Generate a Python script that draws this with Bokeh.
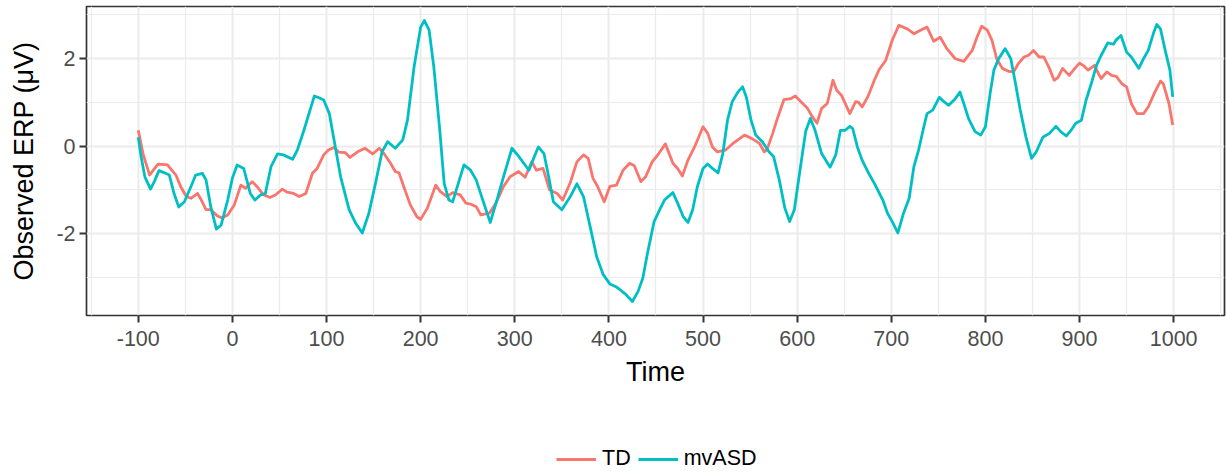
from bokeh.plotting import figure
from bokeh.models import FixedTicker, Legend, LegendItem, Range1d
from bokeh.layouts import column
from bokeh.embed import file_html
from bokeh.resources import INLINE

# ---- data ----
td_time = [-100, -95, -88, -84, -79, -69, -60, -55, -49, -44, -37, -33, -28, -23, -16, -11, -5, 2, 9, 14,
           21, 26, 33, 40, 46, 53, 58, 65, 71, 78, 85, 90, 97, 102, 108, 113, 120, 125, 133, 141,
           149, 156, 161, 168, 173, 177, 182, 189, 196, 200, 207, 216, 221, 228, 234, 242, 248, 253, 259, 264,
           273, 280, 288, 295, 304, 311, 318, 323, 330, 337, 345, 351, 359, 366, 373, 378, 383, 388, 395, 401,
           408, 415, 422, 427, 434, 439, 446, 453, 460, 468, 473, 478, 484, 491, 500, 505, 510, 515, 524, 533,
           544, 552, 560, 565, 568, 574, 579, 586, 593, 598, 604, 611, 616, 621, 626, 632, 638, 642, 647, 656,
           662, 665, 669, 675, 682, 687, 694, 701, 708, 717, 724, 731, 738, 745, 752, 759, 768, 777, 786, 791,
           796, 802, 807, 812, 818, 825, 830, 835, 841, 846, 851, 857, 862, 868, 873, 877, 882, 889, 895, 900,
           905, 909, 916, 920, 923, 929, 934, 939, 945, 950, 955, 961, 968, 973, 980, 986, 989, 995, 999]
td_erp = [0.36, -0.17, -0.66, -0.55, -0.41, -0.43, -0.66, -0.92, -1.15, -1.19, -1.08, -1.23, -1.45, -1.45, -1.59, -1.64, -1.57, -1.34, -0.89, -0.96,
          -0.81, -0.92, -1.11, -1.17, -1.11, -0.98, -1.05, -1.08, -1.15, -1.08, -0.62, -0.51, -0.20, -0.09, -0.03, -0.14, -0.15, -0.26, -0.13, -0.05,
          -0.18, -0.05, -0.17, -0.39, -0.58, -0.61, -0.92, -1.34, -1.61, -1.67, -1.42, -0.89, -1.04, -1.15, -1.06, -1.11, -1.30, -1.32, -1.38, -1.57,
          -1.53, -1.30, -0.92, -0.70, -0.58, -0.71, -0.36, -0.55, -0.51, -1.00, -1.08, -1.23, -0.83, -0.36, -0.20, -0.28, -0.73, -0.92, -1.27, -0.92,
          -0.89, -0.55, -0.39, -0.45, -0.81, -0.70, -0.36, -0.17, 0.05, -0.39, -0.51, -0.68, -0.32, -0.02, 0.44, 0.29, -0.02, -0.13, -0.09, 0.08,
          0.25, 0.17, 0.06, -0.13, -0.08, 0.29, 0.63, 1.06, 1.08, 1.14, 1.01, 0.86, 0.67, 0.52, 0.86, 0.97, 1.50, 1.27, 1.16, 0.74,
          1.01, 1.00, 0.89, 1.12, 1.50, 1.74, 1.95, 2.41, 2.75, 2.67, 2.56, 2.64, 2.71, 2.39, 2.48, 2.22, 1.99, 1.93, 2.18, 2.48,
          2.73, 2.64, 2.41, 1.99, 1.77, 1.70, 1.69, 1.88, 2.03, 2.07, 2.18, 2.03, 2.03, 1.77, 1.50, 1.56, 1.77, 1.61, 1.77, 1.89,
          1.82, 1.73, 1.84, 1.65, 1.54, 1.69, 1.61, 1.59, 1.42, 1.35, 0.97, 0.74, 0.74, 0.89, 1.23, 1.48, 1.42, 0.97, 0.48]

asd_time = [-100, -97, -93, -87, -83, -78, -72, -67, -62, -57, -51, -44, -39, -32, -28, -23, -17, -12, -5, 0,
            5, 12, 19, 24, 30, 35, 41, 48, 54, 58, 64, 69, 76, 87, 92, 97, 103, 108, 115, 124,
            131, 138, 145, 152, 159, 165, 173, 181, 186, 193, 200, 204, 209, 214, 220, 225, 230, 234, 239, 246,
            253, 259, 266, 274, 281, 288, 297, 304, 315, 320, 325, 331, 336, 341, 350, 359, 366, 373, 380, 387,
            394, 401, 408, 417, 425, 431, 436, 441, 448, 454, 459, 468, 473, 479, 484, 489, 494, 500, 505, 510,
            516, 521, 526, 531, 537, 542, 546, 551, 556, 563, 570, 575, 581, 587, 592, 597, 602, 609, 614, 619,
            626, 635, 641, 646, 651, 656, 659, 664, 669, 676, 683, 691, 696, 701, 707, 713, 719, 724, 729, 735,
            738, 744, 751, 756, 761, 768, 773, 777, 782, 789, 795, 800, 805, 809, 814, 821, 827, 832, 837, 843,
            849, 854, 861, 868, 875, 880, 886, 891, 896, 902, 907, 913, 918, 923, 930, 936, 939, 944, 950, 955,
            963, 968, 973, 979, 982, 986, 991, 996, 999]
asd_erp = [0.20, -0.24, -0.70, -0.98, -0.81, -0.56, -0.61, -0.66, -1.08, -1.39, -1.27, -0.92, -0.66, -0.62, -0.77, -1.38, -1.89, -1.80, -1.23, -0.73,
           -0.43, -0.51, -1.08, -1.23, -1.11, -1.08, -0.47, -0.18, -0.20, -0.24, -0.30, -0.09, 0.36, 1.14, 1.10, 1.05, 0.74, 0.14, -0.70, -1.45,
           -1.76, -1.98, -1.53, -0.85, -0.13, 0.10, -0.05, 0.14, 0.59, 1.80, 2.71, 2.86, 2.64, 1.80, 0.44, -0.85, -1.23, -1.27, -0.92, -0.43,
           -0.55, -0.77, -1.23, -1.74, -1.23, -0.70, -0.05, -0.23, -0.55, -0.28, -0.02, -0.17, -0.70, -1.27, -1.45, -1.15, -0.86, -1.15, -1.83, -2.52,
           -2.93, -3.14, -3.21, -3.36, -3.54, -3.31, -3.01, -2.44, -1.72, -1.45, -1.23, -1.06, -1.30, -1.61, -1.74, -1.45, -0.92, -0.51, -0.41, -0.51,
           -0.61, -0.17, 0.59, 1.01, 1.23, 1.35, 1.12, 0.59, 0.25, 0.10, -0.13, -0.24, -0.77, -1.42, -1.72, -1.45, -0.70, 0.33, 0.63, 0.36,
           -0.17, -0.48, -0.20, 0.36, 0.36, 0.45, 0.40, -0.02, -0.32, -0.62, -0.89, -1.23, -1.53, -1.72, -1.98, -1.53, -1.19, -0.47, -0.09, 0.48,
           0.74, 0.82, 1.11, 1.01, 0.93, 1.08, 1.23, 0.97, 0.63, 0.33, 0.25, 0.44, 1.20, 1.73, 1.99, 2.22, 1.99, 1.42, 0.82, 0.21,
           -0.28, -0.13, 0.20, 0.29, 0.45, 0.33, 0.23, 0.36, 0.52, 0.59, 1.05, 1.46, 1.84, 2.07, 2.35, 2.32, 2.42, 2.52, 2.14, 2.03,
           1.77, 1.99, 2.18, 2.60, 2.77, 2.67, 2.18, 1.73, 1.12]

x_ticks = [-100, 0, 100, 200, 300, 400, 500, 600, 700, 800, 900, 1000]
y_ticks = [-2, 0, 2]
series_labels = ["TD", "mvASD"]
series_colors = ["#F8766D", "#00BFC4"]

FONT = "Liberation Sans"

x_minor = [t - 50 for t in x_ticks] + [x_ticks[-1] + 50]
y_minor = [-3, -1, 1, 3]

# ---- main panel ----
p = figure(width=1226, height=400, output_backend="svg", toolbar_location=None,
           x_range=Range1d(-155, 1054), y_range=Range1d(-3.86, 3.18),
           min_border_left=86, min_border_right=2, min_border_top=6, min_border_bottom=85,
           background_fill_color="white", border_fill_color="white")

r_td = p.line(td_time, td_erp, line_color=series_colors[0], line_width=2.8, line_join="round")
r_asd = p.line(asd_time, asd_erp, line_color=series_colors[1], line_width=2.8, line_join="round")

p.xaxis.ticker = FixedTicker(ticks=x_ticks, minor_ticks=x_minor)
p.yaxis.ticker = FixedTicker(ticks=y_ticks, minor_ticks=y_minor)
p.xaxis.major_label_overrides = {t: str(t) for t in x_ticks}
p.yaxis.major_label_overrides = {t: str(t) for t in y_ticks}

for g in (p.xgrid, p.ygrid):
    g.grid_line_color = "#EBEBEB"
    g.grid_line_width = 2
    g.minor_grid_line_color = "#EBEBEB"
    g.minor_grid_line_width = 1.2

p.outline_line_color = "#333333"
p.outline_line_width = 1.7

for ax in (p.xaxis, p.yaxis):
    ax.axis_line_color = None
    ax.minor_tick_line_color = None
    ax.major_tick_line_color = "#333333"
    ax.major_tick_line_width = 2
    ax.major_tick_out = 7
    ax.major_tick_in = 0
    ax.major_label_text_font = FONT
    ax.major_label_text_font_size = "21.5px"
    ax.major_label_text_color = "#4D4D4D"
    ax.axis_label_text_font = FONT
    ax.axis_label_text_font_size = "27px"
    ax.axis_label_text_font_style = "normal"
    ax.axis_label_text_color = "black"

p.xaxis.axis_label = "Time"
p.yaxis.axis_label = "Observed ERP (μV)"
p.xaxis.major_label_standoff = 8
p.yaxis.major_label_standoff = 4
p.xaxis.axis_label_standoff = 8
p.yaxis.axis_label_standoff = 14

# ---- legend strip (same series, view range placed away from the data so only the legend shows) ----
q = figure(width=1226, height=72, output_backend="svg", toolbar_location=None,
           x_axis_type=None, y_axis_type=None, min_border=0,
           x_range=Range1d(5000, 5001), y_range=Range1d(5000, 5001),
           outline_line_color=None, background_fill_color="white", border_fill_color="white")
l_td = q.line(td_time, td_erp, line_color=series_colors[0], line_width=2.8)
l_asd = q.line(asd_time, asd_erp, line_color=series_colors[1], line_width=2.8)

legend = Legend(items=[LegendItem(label=series_labels[0], renderers=[l_td]),
                       LegendItem(label=series_labels[1], renderers=[l_asd])],
                location=(470, 1), orientation="horizontal", padding=0, spacing=7,
                glyph_width=40, glyph_height=20, label_standoff=6,
                label_text_font=FONT, label_text_font_size="21.5px", label_text_color="black",
                border_line_color=None, background_fill_alpha=0, margin=0)
q.add_layout(legend, "center")

layout = column(p, q, spacing=0)
open("out.html", "w").write(file_html(layout, INLINE))
